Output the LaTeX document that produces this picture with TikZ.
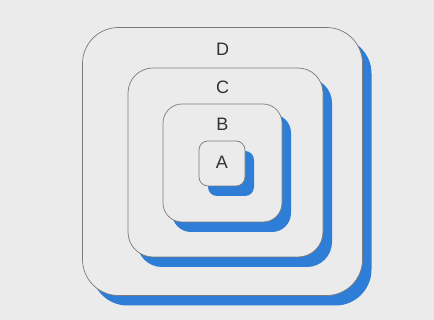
\documentclass[tikz,border=0pt]{standalone}
\usepackage{fontspec}
\setmainfont{Liberation Sans}
\usetikzlibrary{shadows, calc}
\definecolor{cpage}{HTML}{ECEBEB}
\definecolor{cshadow}{HTML}{2E7DD6}
\definecolor{cline}{HTML}{7A7A7A}
\tikzset{
  every picture/.style={line width=0.7pt},
  layer/.style={draw=cline, fill=cpage, rounded corners=#1, inner sep=0pt,
    drop shadow={shadow xshift=9pt, shadow yshift=-10pt, fill=cshadow, opacity=1}},
  lab/.style={font=\fontsize{18}{20}\selectfont, text=black!80, inner sep=0pt},
}
\begin{document}
\begin{tikzpicture}[x=1pt, y=-1pt]
  \fill[cpage] (0,0) rectangle (434,320);
  \useasboundingbox (0,0) rectangle (434,320);
  % ---------- nested layers, outermost first ----------
  \node[layer=36pt, minimum width=280pt, minimum height=268pt] (d) at (222.5,161.5) {};
  \node[layer=25pt, minimum width=195pt, minimum height=189pt] (c) at (225.5,162.5) {};
  \node[layer=19pt, minimum width=119pt, minimum height=118pt] (b) at (222.5,163) {};
  \node[layer=9pt, minimum width=46pt, minimum height=45pt] (a) at (222,163.5) {};
  % ---------- labels ----------
  \node[lab] (dl) at ($(d.north)+(0,22)$) {D};
  \node[lab] (cl) at ($(c.north)+(-3,20)$) {C};
  \node[lab] (bl) at ($(b.north)+(0,21)$) {B};
  \node[lab] (al) at ($(a.north)+(0,22)$) {A};
\end{tikzpicture}
\end{document}
